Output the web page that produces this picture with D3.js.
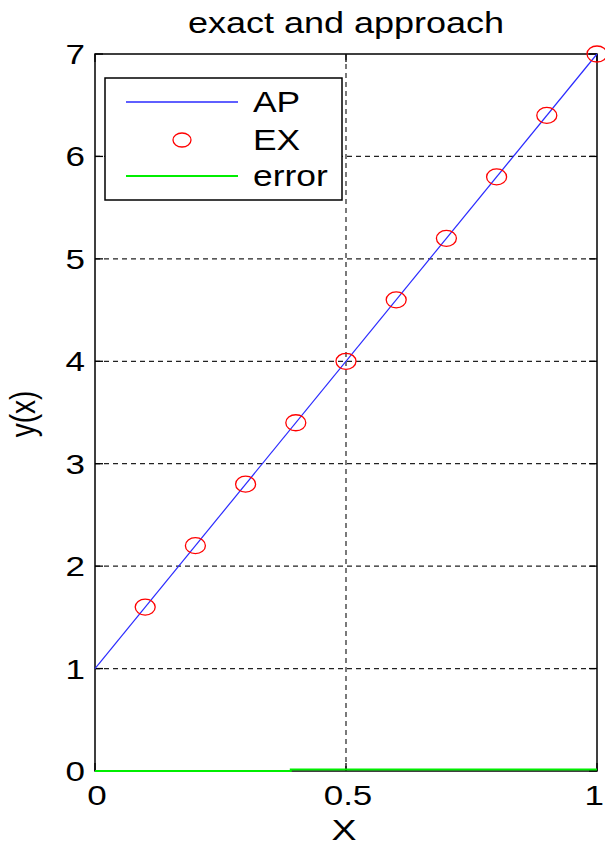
<!DOCTYPE html>
<html><head><meta charset="utf-8">
<script src="https://cdn.jsdelivr.net/npm/d3@7/dist/d3.min.js"></script>
<style>html,body{margin:0;padding:0;background:#fff;}svg{display:block;}</style>
</head><body>
<svg id="chart" width="605" height="848"></svg>
<script>
// ---- data ----
const apX = [0, 1];
const apY = [1, 7];
const exX = [0.1, 0.2, 0.3, 0.4, 0.5, 0.6, 0.7, 0.8, 0.9, 1.0];
const exY = [1.6, 2.2, 2.8, 3.4, 4.0, 4.6, 5.2, 5.8, 6.4, 7.0];
const errX = [0, 0.39, 0.39, 1];
const errY = [0, 0, 0.015, 0.015];
const xTicks = [0, 0.5, 1];
const xTickLabels = ["0", "0.5", "1"];
const yTicks = [0, 1, 2, 3, 4, 5, 6, 7];
const titleText = "exact and approach";
const xLabelText = "X";
const yLabelText = "y(x)";
const legendLabels = ["AP", "EX", "error"];

const svg = d3.select("#chart");
const FONT = "'Liberation Sans', Arial, Helvetica, sans-serif";
const SX = 1.25;

const x = d3.scaleLinear().domain([0, 1]).range([95, 597]);
const y = d3.scaleLinear().domain([0, 7]).range([771, 54]);

function stext(g, tx, ty, str, size, anchor, sx, rot) {
  return g.append("text")
    .attr("transform", `translate(${tx},${ty}) scale(${sx},1)` + (rot ? ` rotate(${rot})` : ""))
    .attr("text-anchor", anchor)
    .attr("font-family", FONT)
    .attr("font-size", size)
    .attr("fill", "#000")
    .text(str);
}

// grid
const grid = svg.append("g").attr("stroke", "#222").attr("stroke-width", 1.2).attr("stroke-dasharray", "5,4");
yTicks.filter(v => v > 0 && v < 7).forEach(v => {
  grid.append("line").attr("x1", x(0)).attr("x2", x(1)).attr("y1", y(v)).attr("y2", y(v));
});
xTicks.filter(v => v > 0 && v < 1).forEach(v => {
  grid.append("line").attr("x1", x(v)).attr("x2", x(v)).attr("y1", y(0)).attr("y2", y(7));
});

// ticks (inward)
const tk = svg.append("g").attr("stroke", "#000").attr("stroke-width", 1.3);
yTicks.forEach(v => {
  tk.append("line").attr("x1", x(0)).attr("x2", x(0) + 8).attr("y1", y(v)).attr("y2", y(v));
  tk.append("line").attr("x1", x(1)).attr("x2", x(1) - 8).attr("y1", y(v)).attr("y2", y(v));
});
xTicks.forEach(v => {
  tk.append("line").attr("x1", x(v)).attr("x2", x(v)).attr("y1", y(0)).attr("y2", y(0) - 8);
  tk.append("line").attr("x1", x(v)).attr("x2", x(v)).attr("y1", y(7)).attr("y2", y(7) + 8);
});

// box
svg.append("rect").attr("x", x(0)).attr("y", y(7)).attr("width", x(1) - x(0)).attr("height", y(0) - y(7))
  .attr("fill", "none").attr("stroke", "#000").attr("stroke-width", 1.5);

// tick labels
const lab = svg.append("g");
yTicks.forEach(v => stext(lab, 85, y(v) + 10, String(v), 28, "end", SX));
xTicks.forEach((v, i) => {
  const last = i === xTicks.length - 1;
  stext(lab, last ? 604 : x(v) + 2, 805, xTickLabels[i], 28, last ? "end" : "middle", SX);
});

// title & axis labels
stext(svg, 346, 33, titleText, 30, "middle", 1.2);
stext(svg, 344, 840, xLabelText, 30, "middle", SX);
stext(svg, 35, 414, yLabelText, 28, "middle", SX, -90);

// lines
const line = d3.line().x(d => x(d[0])).y(d => y(d[1]));
svg.append("path").datum(errX.map((v, i) => [v, errY[i]])).attr("d", line)
  .attr("fill", "none").attr("stroke", "#00ee00").attr("stroke-width", 2);
svg.append("path").datum(apX.map((v, i) => [v, apY[i]])).attr("d", line)
  .attr("fill", "none").attr("stroke", "#2a2aff").attr("stroke-width", 1.2);

// markers
svg.append("g").selectAll("ellipse").data(exX.map((v, i) => [v, exY[i]])).join("ellipse")
  .attr("cx", d => x(d[0])).attr("cy", d => y(d[1])).attr("rx", 10).attr("ry", 8)
  .attr("fill", "none").attr("stroke", "#ff0000").attr("stroke-width", 1.3);

// legend
const lg = svg.append("g");
lg.append("rect").attr("x", 105).attr("y", 78).attr("width", 237).attr("height", 122)
  .attr("fill", "#fff").attr("stroke", "#000").attr("stroke-width", 1.5);
const rowsY = [102, 140, 176];
lg.append("line").attr("x1", 126).attr("x2", 238).attr("y1", rowsY[0]).attr("y2", rowsY[0])
  .attr("stroke", "#2a2aff").attr("stroke-width", 1.5);
lg.append("ellipse").attr("cx", 182).attr("cy", rowsY[1]).attr("rx", 9).attr("ry", 7)
  .attr("fill", "none").attr("stroke", "#ff0000").attr("stroke-width", 1.3);
lg.append("line").attr("x1", 126).attr("x2", 238).attr("y1", rowsY[2]).attr("y2", rowsY[2])
  .attr("stroke", "#00ee00").attr("stroke-width", 2);
legendLabels.forEach((t, i) => stext(lg, 253, rowsY[i] + 10, t, 29, "start", 1.22));
</script>
</body></html>
